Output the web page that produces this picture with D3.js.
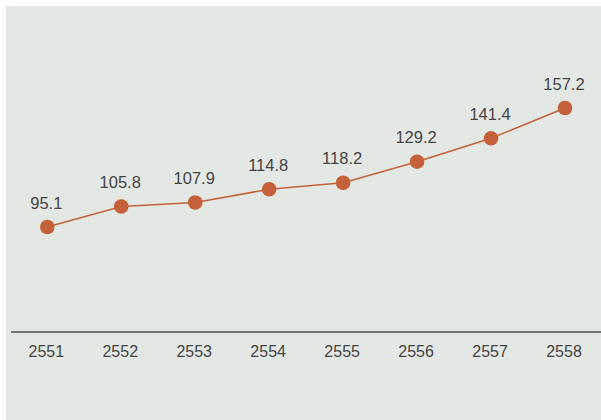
<!DOCTYPE html>
<html><head><meta charset="utf-8">
<script src="https://cdn.jsdelivr.net/npm/d3@7"></script>
<style>body{margin:0;background:#fff;}svg{display:block;}</style>
</head><body>
<svg id="c" width="601" height="420"></svg>
<script>
const years = ["2551","2552","2553","2554","2555","2556","2557","2558"];
const values = [95.1,105.8,107.9,114.8,118.2,129.2,141.4,157.2];
const yDomain = [40,170];

const svg = d3.select("#c");
const W = 601, H = 420;
svg.append("rect").attr("x",6).attr("y",6).attr("width",W-6).attr("height",H-6).attr("fill","#e4e8e5");

const x = d3.scalePoint().domain(years).range([47.3,565]);
const y = d3.scaleLinear().domain(yDomain).range([332.6,83.5]);
const font = "'Liberation Sans', Arial, sans-serif";

// baseline
svg.append("line").attr("x1",11).attr("x2",W).attr("y1",332).attr("y2",332)
  .attr("stroke","#4d4d4d").attr("stroke-width",1.4);

const ax = svg.append("g").attr("transform","translate(-1.5,332)")
  .call(d3.axisBottom(x).tickSize(0).tickPadding(14));
ax.select(".domain").remove();
ax.selectAll("text").attr("font-family",font).attr("font-size",16).attr("fill","#444");

const line = d3.line().x((d,i)=>x(years[i])).y(d=>y(d));
svg.append("path").datum(values).attr("d",line).attr("fill","none")
  .attr("stroke","#c5613a").attr("stroke-width",1.5);

svg.selectAll("circle.pt").data(values).join("circle").attr("class","pt")
  .attr("cx",(d,i)=>x(years[i])).attr("cy",d=>y(d)).attr("r",7.3).attr("fill","#c5613a");

svg.selectAll("text.lbl").data(values).join("text").attr("class","lbl")
  .attr("x",(d,i)=>x(years[i])-1).attr("y",d=>y(d)-18.5)
  .attr("text-anchor","middle").attr("font-family",font).attr("font-size",16.5)
  .attr("fill","#444").text(d=>d.toFixed(1));
</script>
</body></html>
